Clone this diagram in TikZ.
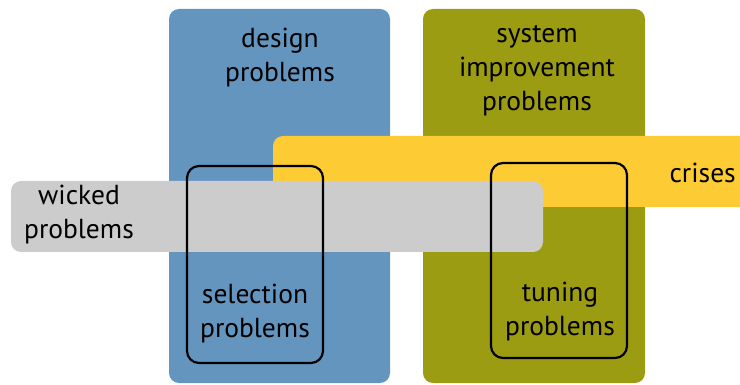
\documentclass[tikz,border=0pt]{standalone}
\usepackage{fontspec}
\setmainfont{PT Sans}
\definecolor{designblue}{RGB}{100,149,191}
\definecolor{sysolive}{RGB}{156,156,18}
\definecolor{crisisyellow}{RGB}{253,203,51}
\definecolor{wickedgray}{RGB}{204,204,204}

\begin{document}
\begin{tikzpicture}[x=1pt,y=-1pt,
	lbl/.style={align=center,font=\fontsize{27.5}{34}\selectfont,inner sep=0pt},
	area/.style={rounded corners=10pt},
	frame/.style={draw=black,line width=2.2pt,rounded corners=12pt}]
	\useasboundingbox (0,0) rectangle (740,385);
	% problem areas
	\fill [designblue, area] (169,9) rectangle (390,383);
	\fill [sysolive, area] (423,9) rectangle (645,383);
	\fill [crisisyellow, area] (273,136) rectangle (770,207);
	\fill [wickedgray, area] (11,181) rectangle (543,252);
	% outlined subsets
	\draw [frame] (187,166) rectangle (323,363);
	\draw [frame] (491,163) rectangle (627,358);
	% labels
	\node [lbl] (design) at (280,58) {design\\problems};
	\node [lbl] (system) at (537,71) {system\\improvement\\problems};
	\node [lbl, anchor=east] (crises) at (736,173) {crises};
	\node [lbl] (wicked) at (79,215) {wicked\\problems};
	\node [lbl] (selection) at (255,314) {selection\\problems};
	\node [lbl] (tuning) at (560,312) {tuning\\problems};
\end{tikzpicture}
\end{document}
